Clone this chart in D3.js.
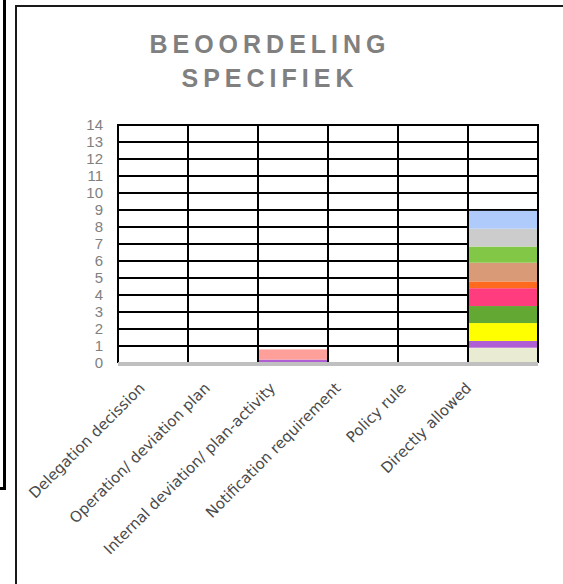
<!DOCTYPE html>
<html>
<head>
<meta charset="utf-8">
<script src="https://cdn.jsdelivr.net/npm/d3@7/dist/d3.min.js"></script>
<style>
  html, body { margin: 0; padding: 0; background: #fff; }
  svg { display: block; }
</style>
</head>
<body>
<svg id="chart" width="563" height="584"></svg>
<script>
// Assessment categories along the x axis
const categories = [
  "Delegation decission",
  "Operation/ deviation plan",
  "Internal deviation/ plan-activity",
  "Notification requirement",
  "Policy rule",
  "Directly allowed"
];

// Y axis ticks
const yTicks = [0, 1, 2, 3, 4, 5, 6, 7, 8, 9, 10, 11, 12, 13, 14];

// Stacked series, bottom to top, one value per category
const seriesNames = ["s1", "s2", "s3", "s4", "s5", "s6", "s7", "s8", "s9", "s10", "s11"];
const seriesColors = ["#E9ECD3", "#B05ED3", "#FF9F9A", "#FFFF00", "#62A832", "#FF3C7E",
                      "#FF6A1E", "#D99B77", "#83C747", "#CCCCCC", "#AECBFB"];
const s1  = [0, 0, 0,   0, 0, 0.9];
const s2  = [0, 0, 0.2, 0, 0, 0.4];
const s3  = [0, 0, 0.6, 0, 0, 0];
const s4  = [0, 0, 0,   0, 0, 1.05];
const s5  = [0, 0, 0,   0, 0, 1.0];
const s6  = [0, 0, 0,   0, 0, 1.05];
const s7  = [0, 0, 0,   0, 0, 0.4];
const s8  = [0, 0, 0,   0, 0, 1.1];
const s9  = [0, 0, 0,   0, 0, 0.95];
const s10 = [0, 0, 0,   0, 0, 1.05];
const s11 = [0, 0, 0,   0, 0, 1.05];
const seriesValues = [s1, s2, s3, s4, s5, s6, s7, s8, s9, s10, s11];

const titleLines = ["BEOORDELING", "SPECIFIEK"];

const svg = d3.select("#chart");

// Frame pieces
svg.append("path")
  .attr("d", "M4.5,0 V488.5 H0")
  .attr("fill", "none").attr("stroke", "#000").attr("stroke-width", 3);
svg.append("path")
  .attr("d", "M16,584 V6 H563")
  .attr("fill", "none").attr("stroke", "#1a1a1a").attr("stroke-width", 2);

// Title
const title = svg.append("text")
  .attr("font-family", "Liberation Sans, Arial, sans-serif")
  .attr("font-weight", "bold")
  .attr("font-size", 25)
  .attr("fill", "#808080")
  .attr("letter-spacing", 5)
  .attr("text-anchor", "middle");
titleLines.forEach((t, i) => {
  title.append("tspan").attr("x", 270).attr("y", 53 + i * 34).text(t);
});

// Scales
const x = d3.scaleBand().domain(categories).range([118, 538]).padding(0);
const xLabel = d3.scaleBand().domain(categories).range([118, 510]).padding(0);
const y = d3.scaleLinear().domain([0, 14]).range([363, 125]);

// Horizontal grid lines
svg.append("g")
  .selectAll("line")
  .data(yTicks.filter(d => d > 0))
  .join("line")
  .attr("x1", x.range()[0]).attr("x2", x.range()[1])
  .attr("y1", d => y(d)).attr("y2", d => y(d))
  .attr("stroke", "#000").attr("stroke-width", 2);

// Stacked bars
const rows = categories.map((c, i) => {
  const r = { category: c };
  seriesNames.forEach((s, j) => { r[s] = seriesValues[j][i]; });
  return r;
});
const stacked = d3.stack().keys(seriesNames)(rows);
svg.append("g")
  .selectAll("g")
  .data(stacked)
  .join("g")
  .attr("fill", (d, i) => seriesColors[i])
  .selectAll("rect")
  .data(d => d.filter(p => p[1] - p[0] > 0))
  .join("rect")
  .attr("x", d => x(d.data.category))
  .attr("width", x.bandwidth())
  .attr("y", d => y(d[1]))
  .attr("height", d => y(d[0]) - y(d[1]));

// Vertical category boundaries
const bounds = categories.map(c => x(c)).concat([x.range()[1]]);
svg.append("g")
  .selectAll("line")
  .data(bounds)
  .join("line")
  .attr("x1", d => d).attr("x2", d => d)
  .attr("y1", y(14) - 1).attr("y2", y(0))
  .attr("stroke", "#000").attr("stroke-width", 2);

// Floor
svg.append("rect")
  .attr("x", x.range()[0]).attr("width", x.range()[1] - x.range()[0])
  .attr("y", y(0) - 1).attr("height", 4)
  .attr("fill", "#C0C0C0");

// Y axis labels
const yAxis = d3.axisLeft(y).tickValues(yTicks).tickSize(0).tickPadding(0);
const yg = svg.append("g").attr("transform", "translate(103,0)").call(yAxis);
yg.select(".domain").remove();
yg.selectAll("text")
  .attr("font-family", "Liberation Sans, Arial, sans-serif")
  .attr("font-size", 15)
  .attr("fill", "#808080");

// X axis labels
const xAxis = d3.axisBottom(xLabel).tickSize(0).tickPadding(0);
const xg = svg.append("g").call(xAxis);
xg.select(".domain").remove();
xg.selectAll(".tick")
  .attr("transform", d => `translate(${xLabel(d) + xLabel.bandwidth() / 2 - 5},389)`);
xg.selectAll("text")
  .attr("x", 0).attr("y", 0).attr("dy", null)
  .attr("font-family", "DejaVu Sans, Verdana, sans-serif")
  .attr("font-size", 15)
  .attr("fill", "#4a4a4a")
  .attr("text-anchor", "end")
  .attr("transform", "rotate(-45)");
</script>
</body>
</html>
